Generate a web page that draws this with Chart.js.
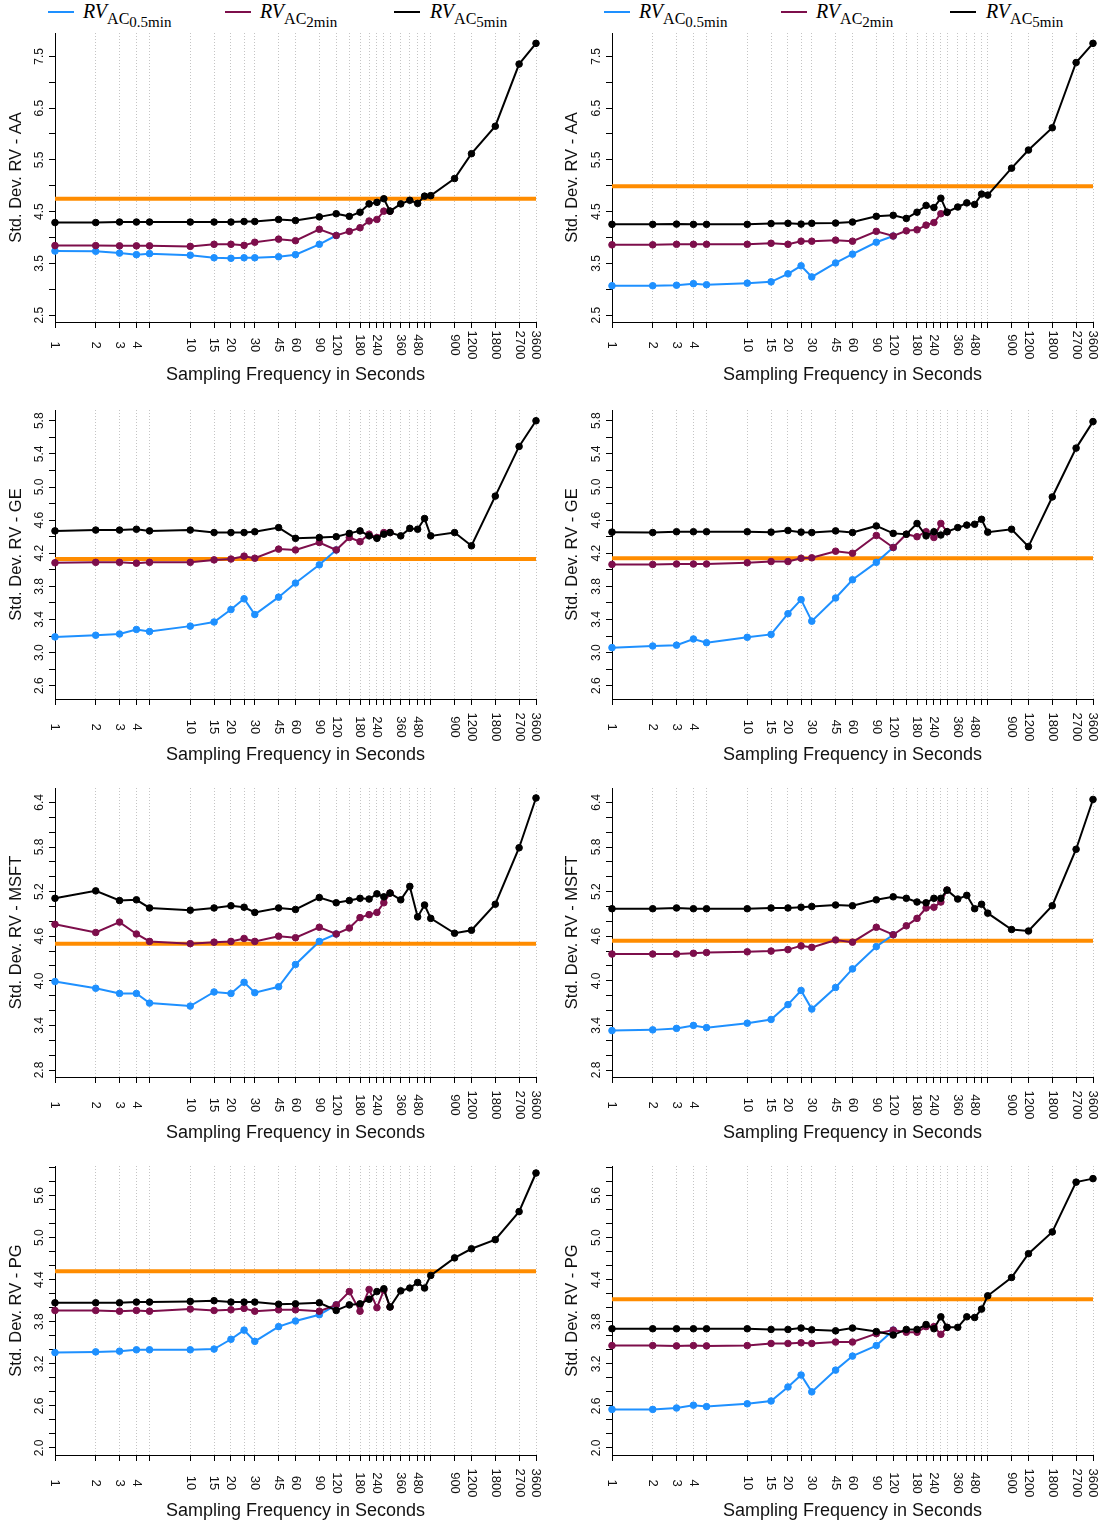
<!DOCTYPE html>
<html>
<head>
<meta charset="utf-8">
<script src="https://cdn.jsdelivr.net/npm/chart.js@4.4.0/dist/chart.umd.min.js"></script>
<style>
  body { margin: 0; background: #fff; width: 1101px; height: 1526px; position: relative; overflow: hidden; }
  canvas { position: absolute; }
  .key { position: absolute; top: 11px; width: 26px; height: 2px; }
  .lab { position: absolute; top: 0; line-height: 22px; white-space: nowrap; font-family: "Liberation Serif", "Times New Roman", serif; color: #000; }
  .lab i { font-size: 20px; }
  .lab .s1 { font-size: 16px; position: relative; top: 6px; }
  .lab .s2 { font-size: 15px; position: relative; top: 3px; }
</style>
</head>
<body>
<div id="legend"></div>
<script>
// sampling frequencies (seconds) and the ones that get a label
const seconds = [1, 2, 3, 4, 5, 10, 15, 20, 25, 30, 45, 60, 90, 120, 150, 180, 210, 240, 270, 300, 360, 420, 480, 540, 600, 900, 1200, 1800, 2700, 3600];
const secondLabels = [1, 2, 3, 4, 10, 15, 20, 30, 45, 60, 90, 120, 180, 240, 360, 480, 900, 1200, 1800, 2700, 3600];

const seriesNames = ["0.5min", "2min", "5min"];

// AA
const aaBlueL = [3.74, 3.735, 3.70, 3.67, 3.69, 3.66, 3.61, 3.60, 3.61, 3.61, 3.63, 3.67, 3.87, 4.04];
const aaPurpleL = [3.845, 3.845, 3.84, 3.84, 3.84, 3.83, 3.87, 3.87, 3.85, 3.91, 3.97, 3.94, 4.16, 4.04, 4.12, 4.19, 4.32, 4.35, 4.51, 4.51];
const aaBlackL = [4.29, 4.29, 4.30, 4.30, 4.30, 4.30, 4.30, 4.30, 4.31, 4.31, 4.35, 4.33, 4.40, 4.46, 4.41, 4.49, 4.65, 4.68, 4.75, 4.51, 4.65, 4.72, 4.66, 4.80, 4.81, 5.14, 5.62, 6.15, 7.35, 7.75];
const aaRefL = 4.75;
const aaBlueR = [3.07, 3.07, 3.08, 3.11, 3.09, 3.12, 3.145, 3.30, 3.455, 3.24, 3.51, 3.68, 3.91, 4.03];
const aaPurpleR = [3.86, 3.86, 3.87, 3.87, 3.87, 3.87, 3.89, 3.87, 3.93, 3.93, 3.95, 3.93, 4.12, 4.03, 4.13, 4.15, 4.24, 4.29, 4.46, 4.49];
const aaBlackR = [4.255, 4.255, 4.26, 4.255, 4.255, 4.255, 4.27, 4.275, 4.26, 4.275, 4.28, 4.30, 4.41, 4.43, 4.37, 4.49, 4.62, 4.58, 4.76, 4.49, 4.59, 4.67, 4.64, 4.84, 4.82, 5.34, 5.69, 6.12, 7.38, 7.75];
const aaRefR = 4.99;

// GE
const geBlueL = [3.19, 3.21, 3.225, 3.28, 3.255, 3.32, 3.37, 3.52, 3.65, 3.46, 3.67, 3.84, 4.06, 4.24];
const gePurpleL = [4.085, 4.09, 4.09, 4.08, 4.09, 4.09, 4.12, 4.13, 4.165, 4.14, 4.25, 4.24, 4.33, 4.24, 4.39, 4.34, 4.43, 4.39, 4.45, 4.45];
const geBlackL = [4.47, 4.48, 4.48, 4.49, 4.47, 4.48, 4.45, 4.45, 4.45, 4.46, 4.51, 4.38, 4.39, 4.40, 4.44, 4.47, 4.41, 4.38, 4.43, 4.45, 4.41, 4.50, 4.49, 4.62, 4.41, 4.45, 4.29, 4.89, 5.49, 5.80];
const geRefL = 4.13;
const geBlueR = [3.06, 3.08, 3.09, 3.165, 3.12, 3.185, 3.22, 3.47, 3.64, 3.38, 3.66, 3.88, 4.09, 4.27];
const gePurpleR = [4.065, 4.065, 4.07, 4.07, 4.07, 4.085, 4.10, 4.10, 4.14, 4.145, 4.225, 4.20, 4.415, 4.27, 4.43, 4.40, 4.46, 4.39, 4.56, 4.46];
const geBlackR = [4.455, 4.45, 4.46, 4.46, 4.46, 4.46, 4.455, 4.475, 4.455, 4.45, 4.47, 4.45, 4.53, 4.44, 4.43, 4.56, 4.41, 4.46, 4.42, 4.46, 4.51, 4.54, 4.55, 4.61, 4.455, 4.49, 4.28, 4.88, 5.47, 5.79];
const geRefR = 4.14;

// MSFT
const msftBlueL = [3.99, 3.90, 3.83, 3.83, 3.70, 3.66, 3.85, 3.83, 3.98, 3.84, 3.92, 4.22, 4.53, 4.63];
const msftPurpleL = [4.76, 4.65, 4.79, 4.63, 4.53, 4.50, 4.52, 4.53, 4.57, 4.53, 4.60, 4.58, 4.72, 4.63, 4.71, 4.85, 4.89, 4.92, 5.05, 5.18];
const msftBlackL = [5.11, 5.21, 5.08, 5.09, 4.98, 4.95, 4.98, 5.01, 4.99, 4.92, 4.98, 4.96, 5.12, 5.05, 5.08, 5.11, 5.10, 5.17, 5.13, 5.18, 5.09, 5.27, 4.86, 5.02, 4.84, 4.64, 4.68, 5.03, 5.79, 6.46];
const msftRefL = 4.50;
const msftBlueR = [3.33, 3.34, 3.36, 3.40, 3.37, 3.43, 3.48, 3.68, 3.87, 3.62, 3.91, 4.16, 4.46, 4.62];
const msftPurpleR = [4.36, 4.36, 4.36, 4.37, 4.38, 4.39, 4.40, 4.42, 4.47, 4.45, 4.55, 4.52, 4.72, 4.62, 4.74, 4.84, 4.98, 4.99, 5.06, 5.22];
const msftBlackR = [4.97, 4.97, 4.98, 4.97, 4.97, 4.97, 4.98, 4.98, 4.99, 5.00, 5.02, 5.01, 5.09, 5.13, 5.11, 5.06, 5.05, 5.11, 5.11, 5.22, 5.10, 5.15, 4.97, 5.03, 4.91, 4.69, 4.67, 5.01, 5.77, 6.44];
const msftRefR = 4.54;

// PG
const pgBlueL = [3.36, 3.37, 3.38, 3.40, 3.40, 3.40, 3.41, 3.55, 3.68, 3.52, 3.73, 3.81, 3.90, 4.04];
const pgPurpleL = [3.96, 3.96, 3.95, 3.96, 3.95, 3.98, 3.96, 3.97, 3.99, 3.95, 3.97, 3.97, 3.95, 4.04, 4.23, 3.95, 4.26, 4.00, 4.25, 4.01];
const pgBlackL = [4.07, 4.07, 4.07, 4.08, 4.08, 4.09, 4.10, 4.08, 4.08, 4.08, 4.05, 4.055, 4.07, 3.96, 4.04, 4.055, 4.12, 4.23, 4.27, 4.01, 4.24, 4.28, 4.36, 4.28, 4.46, 4.71, 4.84, 4.97, 5.37, 5.92];
const pgRefL = 4.52;
const pgBlueR = [2.55, 2.55, 2.57, 2.61, 2.59, 2.63, 2.67, 2.87, 3.04, 2.80, 3.11, 3.31, 3.46, 3.68];
const pgPurpleR = [3.46, 3.46, 3.455, 3.46, 3.455, 3.46, 3.49, 3.49, 3.50, 3.49, 3.51, 3.51, 3.63, 3.68, 3.65, 3.65, 3.73, 3.73, 3.62, 3.72];
const pgBlackR = [3.70, 3.70, 3.70, 3.70, 3.70, 3.70, 3.69, 3.69, 3.71, 3.685, 3.67, 3.71, 3.66, 3.61, 3.69, 3.69, 3.76, 3.70, 3.87, 3.72, 3.72, 3.87, 3.86, 3.98, 4.17, 4.43, 4.77, 5.08, 5.79, 5.84];
const pgRefR = 4.12;

// y tick labels per row
const aaTicks = [2.5, 3.5, 4.5, 5.5, 6.5, 7.5];
const geTicks = [2.6, 3.0, 3.4, 3.8, 4.2, 4.6, 5.0, 5.4, 5.8];
const msftTicks = [2.8, 3.4, 4.0, 4.6, 5.2, 5.8, 6.4];
const pgTicks = [2.0, 2.6, 3.2, 3.8, 4.4, 5.0, 5.6];

const BLUE = "#1e90ff", PURPLE = "#7d0e4b", BLACK = "#000000", ORANGE = "#ff8c00";
const FONT = '"Liberation Sans", Arial, sans-serif';

const rows = [
  { name: "AA", min: 2.37, max: 7.95, first: 2.5, step: 0.5, labels: aaTicks, labGap: 23, titleGap: 53 },
  { name: "GE", min: 2.44, max: 5.93, first: 2.6, step: 0.2, labels: geTicks, labGap: 28, titleGap: 56 },
  { name: "MSFT", min: 2.706, max: 6.594, first: 2.8, step: 0.2, labels: msftTicks, labGap: 28, titleGap: 56 },
  { name: "PG", min: 1.90, max: 6.02, first: 2.0, step: 0.2, labels: pgTicks, labGap: 28, titleGap: 56 },
];

const panels = [
  [aaBlueL, aaPurpleL, aaBlackL, aaRefL], [aaBlueR, aaPurpleR, aaBlackR, aaRefR],
  [geBlueL, gePurpleL, geBlackL, geRefL], [geBlueR, gePurpleR, geBlackR, geRefR],
  [msftBlueL, msftPurpleL, msftBlackL, msftRefL], [msftBlueR, msftPurpleR, msftBlackR, msftRefR],
  [pgBlueL, pgPurpleL, pgBlackL, pgRefL], [pgBlueR, pgPurpleR, pgBlackR, pgRefR],
];

// layout
const colX = [0, 556];
const rowY = [3, 380, 758, 1136];
const plotLeft = [55, 56];
const plotRight = [536, 537];
const CW = 545, CH = 392, PT = 30, PB = 319;

// legend (one per column)
const legend = document.getElementById("legend");
const keyX = [48, 225, 394];
const textX = [83, 260, 430];
[BLUE, PURPLE, BLACK].forEach((c, i) => {
  colX.forEach(cx => {
    legend.insertAdjacentHTML("beforeend",
      `<div class="key" style="left:${cx + keyX[i]}px;background:${c}"></div>` +
      `<div class="lab" style="left:${cx + textX[i]}px"><i>RV</i><span class="s1">AC<span class="s2">${seriesNames[i]}</span></span></div>`);
  });
});

const toPoints = arr => arr.map((v, i) => ({ x: seconds[i], y: v }));

function axisText(row) {
  return {
    id: "axisText",
    afterDraw(chart) {
      const { ctx, chartArea: a, scales: { x, y } } = chart;
      ctx.save();
      ctx.fillStyle = "#111";
      ctx.textBaseline = "middle";
      ctx.textAlign = "center";

      // x labels read top to bottom, centred below the axis
      ctx.font = "13px " + FONT;
      secondLabels.forEach(v => {
        ctx.save();
        ctx.translate(x.getPixelForValue(v), a.bottom + row.labGap);
        ctx.rotate(Math.PI / 2);
        ctx.fillText(String(v), 0, 0);
        ctx.restore();
      });

      ctx.font = "12px " + FONT;
      row.labels.forEach(v => {
        ctx.save();
        ctx.translate(a.left - 15, y.getPixelForValue(v));
        ctx.rotate(-Math.PI / 2);
        ctx.fillText(v.toFixed(1), 0, 0);
        ctx.restore();
      });

      ctx.font = "18px " + FONT;
      ctx.fillText("Sampling Frequency in Seconds", (a.left + a.right) / 2, a.bottom + row.titleGap);
      ctx.font = "16.5px " + FONT;
      ctx.save();
      ctx.translate(16, (a.top + a.bottom) / 2);
      ctx.rotate(-Math.PI / 2);
      ctx.fillText("Std. Dev. RV - " + row.name, 0, 0);
      ctx.restore();
      ctx.restore();
    }
  };
}

panels.forEach((p, k) => {
  const r = Math.floor(k / 2), c = k % 2;
  const row = rows[r];
  const canvas = document.createElement("canvas");
  canvas.width = CW;
  canvas.height = CH;
  canvas.style.left = colX[c] + "px";
  canvas.style.top = rowY[r] + "px";
  document.body.appendChild(canvas);

  const yTicks = [];
  for (let v = row.first; v <= row.max + 1e-9; v += row.step) yTicks.push({ value: Math.round(v * 10) / 10 });

  const line = (data, color, order) => ({
    data: toPoints(data),
    borderColor: color,
    backgroundColor: color,
    pointBackgroundColor: color,
    order: order,
    clip: false,
  });

  new Chart(canvas, {
    type: "line",
    data: {
      datasets: [
        { data: [{ x: 1, y: p[3] }, { x: 3600, y: p[3] }], borderColor: ORANGE, borderWidth: 4, pointRadius: 0, order: 3 },
        line(p[0], BLUE, 2),
        line(p[1], PURPLE, 1),
        line(p[2], BLACK, 0),
      ],
    },
    options: {
      responsive: false,
      animation: false,
      events: [],
      layout: { padding: { top: PT, right: CW - plotRight[c], left: 0, bottom: 0 } },
      plugins: { legend: { display: false }, tooltip: { enabled: false } },
      elements: {
        line: { tension: 0, borderWidth: 2 },
        point: { radius: 3.3, borderWidth: 1, borderColor: "#fff" },
      },
      scales: {
        x: {
          type: "logarithmic",
          min: 1,
          max: 3600,
          afterBuildTicks: s => { s.ticks = seconds.map(v => ({ value: v })); },
          afterFit: s => { s.height = CH - PB; },
          ticks: { display: false },
          grid: { color: "#c4c4c4", lineWidth: 1, drawTicks: true, tickLength: 6, tickColor: "#000", tickWidth: 1, tickBorderDash: [] },
          border: { display: true, color: "#000", width: 1, dash: [1, 2] },
        },
        y: {
          type: "linear",
          min: row.min,
          max: row.max,
          afterBuildTicks: s => { s.ticks = yTicks; },
          afterFit: s => { s.width = plotLeft[c]; },
          ticks: { display: false },
          grid: { drawOnChartArea: false, drawTicks: true, tickLength: 6, tickColor: "#000" },
          border: { display: true, color: "#000", width: 1 },
        },
      },
    },
    plugins: [axisText(row)],
  });
});
</script>
</body>
</html>
